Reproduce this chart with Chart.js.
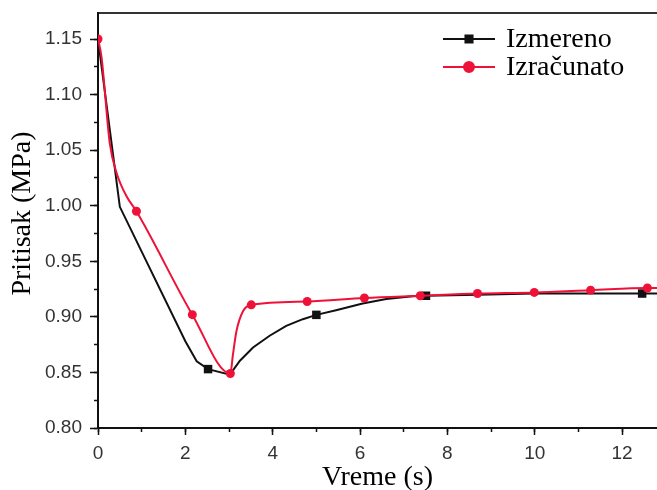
<!DOCTYPE html>
<html>
<head>
<meta charset="utf-8">
<script src="https://cdn.jsdelivr.net/npm/chart.js@4"></script>
<style>
  html, body { margin: 0; padding: 0; background: #fff; }
</style>
</head>
<body>
<canvas id="chart" width="657" height="490"></canvas>
<script>
const izmerenoT = [0, 0.5, 2.0, 2.26, 2.52, 3.02, 3.25, 3.55, 3.93, 4.31, 4.69, 5.0, 5.45, 6.06, 6.6, 7.2, 7.51, 8.7, 10.0, 11.3, 12.46, 12.8];
const izmerenoP = [1.15, 0.999, 0.878, 0.860, 0.853, 0.848, 0.8605, 0.8724, 0.883, 0.8919, 0.8979, 0.9018, 0.906, 0.912, 0.916, 0.9185, 0.919, 0.920, 0.921, 0.921, 0.921, 0.921];
const izmerenoSymbols = [4, 11, 16, 20];

// Izračunato (calculated)
const izracunatoT = [0, 0.08, 0.27, 0.43, 0.66, 0.88, 2.16, 3.03, 3.09, 3.17, 3.32, 3.51, 4.79, 6.1, 7.38, 8.69, 9.99, 11.28, 12.58, 12.8];
const izracunatoP = [1.15, 1.134, 1.056, 1.029, 1.008, 0.995, 0.902, 0.849, 0.866, 0.887, 0.905, 0.9108, 0.9138, 0.917, 0.919, 0.921, 0.922, 0.924, 0.926, 0.926];
const izracunatoSymbols = [0, 5, 6, 7, 11, 12, 13, 14, 15, 16, 17, 18];

const xRange = [0, 12.8];
const yRange = [0.8, 1.1734];
const xStep = 2, xMinorStep = 1;
const yStep = 0.05, yMinorStep = 0.025;

const BLACK = "#111111";
const RED = "#ee1238";

const toPoints = (xs, ys) => xs.map((x, i) => ({ x: x, y: ys[i] }));

// keep the plot area exactly where the scales' fixed sizes put it
const fixBox = size => s => {
    if (s.isHorizontal()) s.height = size; else s.width = size;
    s.paddingTop = 0; s.paddingBottom = 0; s.paddingLeft = 0; s.paddingRight = 0;
};

const legendBox = {
    id: "legendBox",
    afterDraw(chart) {
        const ctx = chart.ctx;
        const x0 = chart.chartArea.right - 214;
        const y0 = chart.chartArea.top + 26;
        chart.data.datasets.forEach((ds, i) => {
            const y = y0 + i * 28;
            ctx.save();
            ctx.strokeStyle = ds.borderColor;
            ctx.lineWidth = ds.borderWidth;
            ctx.beginPath();
            ctx.moveTo(x0, y);
            ctx.lineTo(x0 + 52, y);
            ctx.stroke();
            ctx.fillStyle = ds.borderColor;
            Chart.helpers.drawPoint(ctx, { pointStyle: ds.pointStyle, radius: ds.legendRadius, borderWidth: 1 }, x0 + 26, y);
            ctx.fillStyle = "#000";
            ctx.font = "28px 'Liberation Serif'";
            ctx.textBaseline = "middle";
            ctx.fillText(ds.label, x0 + 63, y + 1);
            ctx.restore();
        });
    }
};

const tickFont = { family: "'Liberation Sans', Arial", size: 19 };
const titleFont = { family: "'Liberation Serif', 'Times New Roman'", size: 28 };
const axisBorder = { display: true, color: "#111", width: 2 };

new Chart(document.getElementById("chart"), {
    type: "line",
    data: {
        datasets: [
            {
                label: "Izmereno",
                data: toPoints(izmerenoT, izmerenoP),
                borderColor: BLACK,
                backgroundColor: BLACK,
                borderWidth: 2,
                pointStyle: "rect",
                legendRadius: 5,
                pointRadius: ctx => izmerenoSymbols.includes(ctx.dataIndex) ? 6 : 0,
                pointBorderWidth: 0,
                tension: 0,
                order: 2
            },
            {
                label: "Izračunato",
                data: toPoints(izracunatoT, izracunatoP),
                borderColor: RED,
                backgroundColor: RED,
                borderWidth: 2,
                pointStyle: "circle",
                legendRadius: 5,
                pointRadius: ctx => izracunatoSymbols.includes(ctx.dataIndex) ? 4.5 : 0,
                pointBorderWidth: 0,
                cubicInterpolationMode: "monotone",
                order: 1
            }
        ]
    },
    options: {
        responsive: false,
        animation: false,
        layout: { autoPadding: false, padding: { top: 13, left: 0, right: 0, bottom: 0 } },
        plugins: { legend: { display: false }, tooltip: { enabled: false } },
        scales: {
            x: {
                type: "linear",
                min: xRange[0],
                max: xRange[1],
                weight: 1,
                afterFit: fixBox(62),
                ticks: {
                    stepSize: xStep,
                    includeBounds: false,
                    autoSkip: false,
                    maxRotation: 0,
                    padding: 7,
                    color: "#333",
                    font: tickFont
                },
                grid: { drawOnChartArea: false, drawTicks: true, tickLength: 7, tickColor: "#111", tickWidth: 1.5 },
                border: axisBorder,
                title: { display: true, text: "Vreme (s)", color: "#000", font: titleFont, padding: { top: 0, bottom: -4 } }
            },
            xMinor: {
                type: "linear",
                position: "bottom",
                min: xRange[0],
                max: xRange[1],
                weight: 0,
                afterFit: fixBox(0),
                ticks: { display: false, stepSize: xMinorStep, includeBounds: false, autoSkip: false },
                grid: { drawOnChartArea: false, drawTicks: true, tickLength: 4, tickColor: "#111", tickWidth: 1.5 },
                border: axisBorder
            },
            xTop: {
                type: "linear",
                position: "top",
                min: xRange[0],
                max: xRange[1],
                afterFit: fixBox(0),
                ticks: { display: false },
                grid: { display: false, drawTicks: false },
                border: { display: true, color: "#333", width: 2 }
            },
            y: {
                type: "linear",
                min: yRange[0],
                max: yRange[1],
                weight: 1,
                afterFit: fixBox(98),
                ticks: {
                    stepSize: yStep,
                    includeBounds: false,
                    autoSkip: false,
                    padding: 8,
                    color: "#333",
                    font: tickFont,
                    callback: v => v.toFixed(2)
                },
                grid: { drawOnChartArea: false, drawTicks: true, tickLength: 8, tickColor: "#111", tickWidth: 1.5 },
                border: axisBorder,
                // two leading no-break spaces lift the centred title a little, as in the original
                title: { display: true, text: "\u00a0\u00a0Pritisak (MPa)", color: "#000", font: titleFont, padding: { top: 6, bottom: 0 } }
            },
            yMinor: {
                type: "linear",
                position: "left",
                min: yRange[0],
                max: yRange[1],
                weight: 0,
                afterFit: fixBox(0),
                ticks: { display: false, stepSize: yMinorStep, includeBounds: false, autoSkip: false },
                grid: { drawOnChartArea: false, drawTicks: true, tickLength: 4, tickColor: "#111", tickWidth: 1.5 },
                border: axisBorder
            }
        }
    },
    plugins: [legendBox]
});
</script>
</body>
</html>
